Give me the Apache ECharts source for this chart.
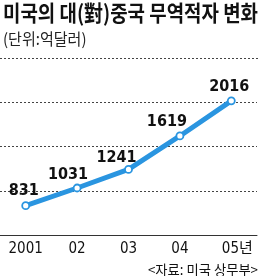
<!DOCTYPE html>
<html><head><meta charset="utf-8">
<script src="https://cdn.jsdelivr.net/npm/echarts@6/dist/echarts.min.js"></script>
<style>html,body{margin:0;padding:0;background:#fff}#c{width:260px;height:276px}</style>
</head><body><div id="c"></div>
<script>
const titleText = '미국의 대(對)중국 무역적자 변화';
const unitText = '(단위:억달러)';
const sourceText = '<자료: 미국 상무부>';
const categories = ['2001', '02', '03', '04', '05년'];
const deficit = [831, 1031, 1241, 1619, 2016];
const yTicks = {min: 500, max: 2500, interval: 500};

const labelOffsets = [[-2, 0], [-9, 1.5], [-12, 2.5], [-13, 0], [-2, 0]];
const numFont = '"Liberation Sans Narrow", "DejaVu Sans Condensed", sans-serif';
const krFont = '"Noto Sans CJK KR", sans-serif';

const chart = echarts.init(document.getElementById('c'), null, {renderer: 'canvas'});
chart.setOption({
  animation: false,
  grid: {left: 0, right: 3, top: 58, bottom: 41, containLabel: false},
  xAxis: {
    type: 'category',
    data: categories.map((c, i) => i === categories.length - 1
      ? {value: c, textStyle: {padding: [0, 0, 0, 12]}} : c),
    boundaryGap: true,
    axisLine: {lineStyle: {color: '#333', width: 1}},
    axisTick: {inside: true, length: 4, alignWithLabel: true, lineStyle: {color: '#333'}},
    axisLabel: {color: '#111', fontFamily: numFont + ',' + krFont, fontSize: 15, margin: 7}
  },
  yAxis: {
    type: 'value', min: yTicks.min, max: yTicks.max, interval: yTicks.interval,
    axisLabel: {show: false}, axisLine: {show: false}, axisTick: {show: false},
    splitLine: {show: true, showMaxLine: true, lineStyle: {color: '#444', type: [2, 2], width: 1}}
  },
  series: [{
    type: 'line',
    data: deficit.map((v, i) => ({value: v, label: {offset: labelOffsets[i]}})),
    lineStyle: {color: '#2a95e0', width: 5},
    itemStyle: {color: '#fff', borderColor: '#2a95e0', borderWidth: 1.8},
    symbol: 'circle', symbolSize: 7, showSymbol: true,
    label: {show: true, position: 'top', distance: 2, color: '#111',
      fontFamily: numFont, fontWeight: 'bold', fontSize: 16, lineHeight: 16}
  }],
  graphic: [
    {type: 'text', x: 3, y: 2, scaleX: 0.86,
      style: {text: titleText, font: 'bold 22px ' + krFont, fill: '#111', textVerticalAlign: 'top'}},
    {type: 'text', x: 3, y: 31, scaleX: 0.94,
      style: {text: unitText, font: '16px ' + krFont, fill: '#222', textVerticalAlign: 'top'}},
    {type: 'line', shape: {x1: 0, y1: 58.5, x2: 260, y2: 58.5},
      style: {stroke: '#444', lineWidth: 1, lineDash: [2, 2]}},
    {type: 'text', x: 258, y: 263, scaleX: 0.95,
      style: {text: sourceText, font: '14px ' + krFont, fill: '#111', textAlign: 'right', textVerticalAlign: 'top'}}
  ]
});
</script></body></html>
